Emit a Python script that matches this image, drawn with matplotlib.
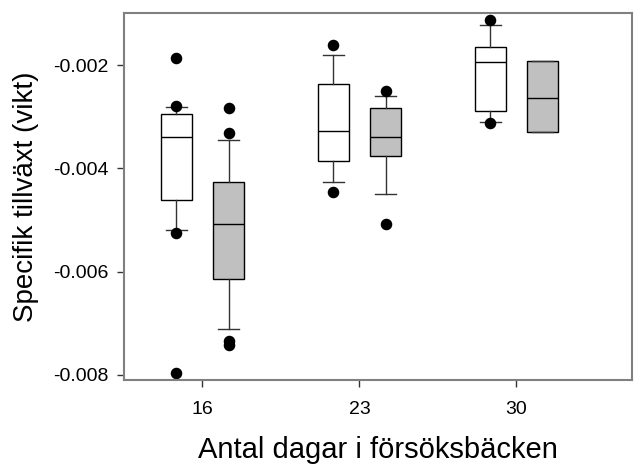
import matplotlib
matplotlib.use('Agg')
import matplotlib.pyplot as plt

plt.rcParams['font.family'] = ['Liberation Sans', 'DejaVu Sans']

days = [16, 23, 30]
tick_labels = ['16', '23', '30']

# box stats per day: (q1, median, q3, whislo, whishi, outliers)
white_q1 = [-0.00462, -0.00386, -0.00289]
white_med = [-0.00339, -0.00327, -0.00194]
white_q3 = [-0.00294, -0.00237, -0.00164]
white_lo = [-0.00520, -0.00426, -0.00311]
white_hi = [-0.00281, -0.00181, -0.00122]
white_fliers = [[-0.00186, -0.00279, -0.00525, -0.00796],
                [-0.00161, -0.00446],
                [-0.00113, -0.00313]]

gray_q1 = [-0.00615, -0.00376, -0.00329]
gray_med = [-0.00507, -0.00340, -0.00264]
gray_q3 = [-0.00426, -0.00283, -0.00192]
gray_lo = [-0.00712, -0.00449, -0.00329]
gray_hi = [-0.00345, -0.00259, -0.00192]
gray_fliers = [[-0.00284, -0.00331, -0.00735, -0.00742],
               [-0.00250, -0.00508],
               []]


def make_stats(q1, med, q3, lo, hi, fl):
    return [dict(q1=a, med=b, q3=c, whislo=d, whishi=e, fliers=f)
            for a, b, c, d, e, f in zip(q1, med, q3, lo, hi, fl)]


fig = plt.figure(figsize=(6.4, 4.66), dpi=100)
# axes box in pixels: x 124..632, y 13..380 (from top)
ax = fig.add_axes([124 / 640, 1 - 380 / 466, 508 / 640, 367 / 466])

offset = 1.16
width = 1.38
flierprops = dict(marker='o', markerfacecolor='black', markeredgecolor='black',
                  markersize=7.3, linestyle='none')
common = dict(widths=width, capwidths=0.95, patch_artist=True,
              flierprops=flierprops,
              medianprops=dict(color='black', linewidth=1),
              whiskerprops=dict(color='#333333', linewidth=1),
              capprops=dict(color='#333333', linewidth=1),
              manage_ticks=False)

# white boxes
st_w = make_stats(white_q1, white_med, white_q3, white_lo, white_hi, white_fliers)
ax.bxp(st_w, positions=[d - offset for d in days],
       boxprops=dict(facecolor='white', edgecolor='black', linewidth=1), **common)

# gray boxes (last one has no whiskers)
st_g = make_stats(gray_q1, gray_med, gray_q3, gray_lo, gray_hi, gray_fliers)
ax.bxp(st_g, positions=[d + offset for d in days],
       boxprops=dict(facecolor='#c0c0c0', edgecolor='black', linewidth=1), **common)

ax.set_xlim(12.5, 35.15)
ax.set_ylim(-0.0081, -0.00099)
ax.set_xticks(days)
ax.set_xticklabels(tick_labels)
ax.set_yticks([-0.008, -0.006, -0.004, -0.002])
ax.set_yticklabels(['-0.008', '-0.006', '-0.004', '-0.002'])
ax.tick_params(direction='out', length=5, width=1, color='#333333', labelsize=14)
ax.tick_params(axis='x', pad=10)
ax.tick_params(axis='y', pad=6)

for s in ax.spines.values():
    s.set_color('#808080')
    s.set_linewidth(1.5)

ax.set_xlabel('Antal dagar i försöksbäcken', fontsize=21, labelpad=13)
ax.set_ylabel('Specifik tillväxt (vikt)', fontsize=20, labelpad=10)

fig.savefig('out.png', dpi=100)
